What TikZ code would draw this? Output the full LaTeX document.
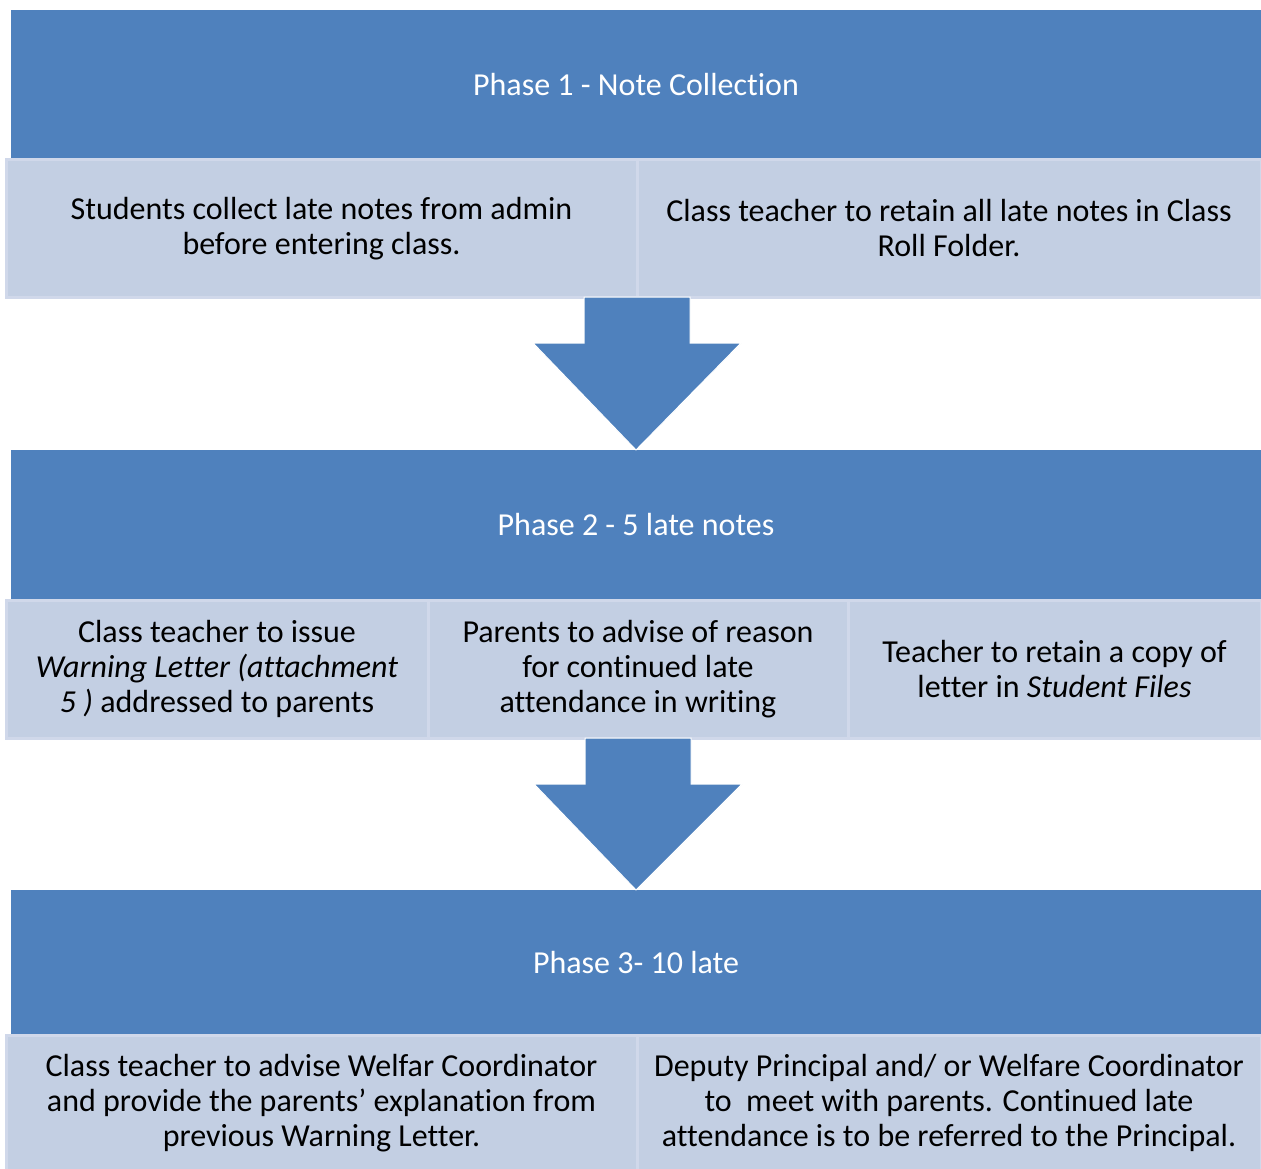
\documentclass[tikz,border=0pt]{standalone}
\usepackage{fontspec}
\setmainfont{Carlito}[Ligatures=NoCommon]
\usepackage{tikz}
\usetikzlibrary{positioning,calc}
\usepackage{xcolor}
\definecolor{phaseblue}{HTML}{4F81BD}
\definecolor{cellblue}{HTML}{C3CFE3}
\definecolor{cellline}{HTML}{D0D8EA}
\tikzstyle{phase} = [rectangle, minimum width=1250pt, minimum height=150pt, inner sep=0pt, outer sep=0pt, text centered, fill=phaseblue, text=white]
\tikzstyle{cell} = [rectangle, anchor=north west, inner sep=0pt, outer sep=0pt, align=center, fill=cellblue, draw=cellline, line width=3pt]
% block arrow between two phases
\newcommand{\phasearrow}[2]{%
  \fill[phaseblue, draw=white, line width=1pt] ($(#1)+(-53,0)$) -- ($(#1)+(53,0)$) -- ($(#1)+(53,46)$) -- ($(#1)+(104,46)$) -- (#2) -- ($(#1)+(-104,46)$) -- ($(#1)+(-53,46)$) -- cycle;}

\begin{document}
\begin{tikzpicture}[x=1pt, y=-1pt, font=\fontsize{32pt}{35pt}\selectfont]
    \useasboundingbox (0,0) rectangle (1261,1169);
    \fill[white] (0,0) rectangle (1261,1169);
    \clip (0,0) rectangle (1261,1169);

    % Phase 1
    \node (ph1) [phase] at (636,85) {Phase 1 - Note Collection};
    \node (s11) [cell, minimum width=631pt, minimum height=137pt, xshift=-5pt] at (ph1.south west) {Students collect late notes from admin\\before entering class.};
    \node (s12) [cell, minimum width=624pt, minimum height=137pt, right=0pt of s11.north east, anchor=north west] {Class teacher to retain all late notes in Class\\Roll Folder.};

    % Phase 2
    \node (ph2) [phase, below=290pt of ph1] {Phase 2 - 5 late notes};
    \node (s21) [cell, minimum width=422pt, minimum height=138pt, xshift=-5pt] at (ph2.south west) {Class teacher to issue\\\textit{Warning Letter (attachment}\\\textit{5 )} addressed to parents};
    \node (s22) [cell, minimum width=420pt, minimum height=138pt, right=0pt of s21.north east, anchor=north west] {Parents to advise of reason\\for continued late\\attendance in writing};
    \node (s23) [cell, minimum width=413pt, minimum height=138pt, right=0pt of s22.north east, anchor=north west] {Teacher to retain a copy of\\letter in \textit{Student Files}};

    % Phase 3
    \node (ph3) [phase, minimum height=145pt, below=290pt of ph2] {Phase 3- 10 late};
    \node (s31) [cell, minimum width=631pt, minimum height=136pt, xshift=-5pt] at (ph3.south west) {Class teacher to advise Welfar Coordinator\\and provide the parents' explanation from\\previous Warning Letter.};
    \node (s32) [cell, minimum width=624pt, minimum height=136pt, right=0pt of s31.north east, anchor=north west] {Deputy Principal and/ or Welfare Coordinator\\to\ \ meet with parents. Continued late\\attendance is to be referred to the Principal.};

    % Arrows
    \phasearrow{s11.south east}{ph2.north}
    \phasearrow{s22.south}{ph3.north}

\end{tikzpicture}
\end{document}
